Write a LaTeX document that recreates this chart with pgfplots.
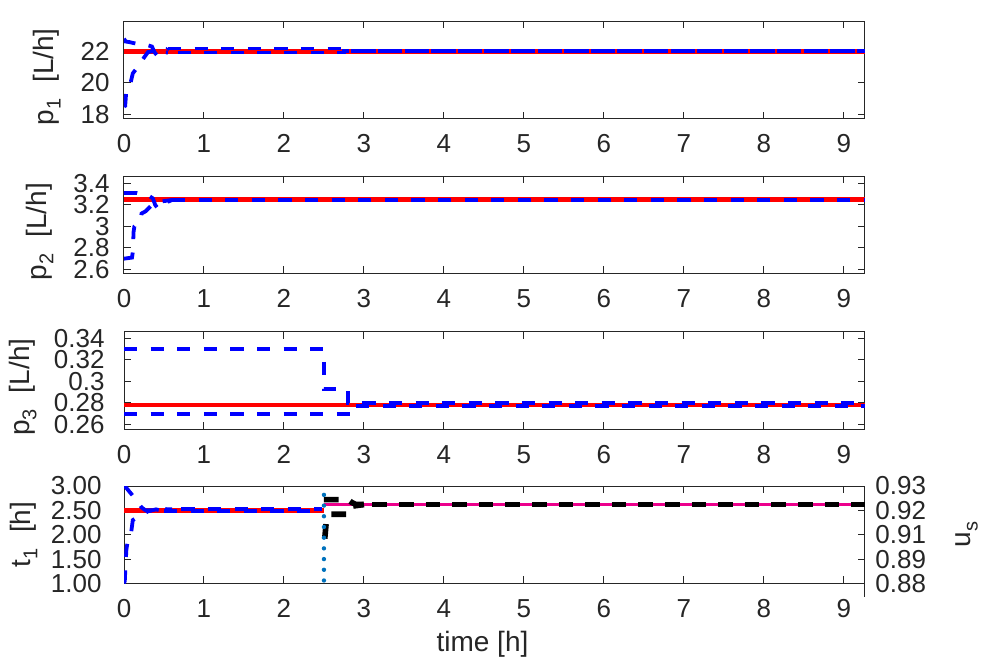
\documentclass[border=0pt]{standalone}
\usepackage{fontspec}
\setmainfont{Liberation Sans}
\usepackage{pgfplots}
\pgfplotsset{compat=1.18}
\definecolor{axgray}{RGB}{38,38,38}
\definecolor{mlblue}{RGB}{0,114,189}
\newcommand{\sub}[1]{\raisebox{-0.24em}{\fontsize{10}{10}\selectfont #1}}
\pgfplotsset{
  panel/.style={
    scale only axis, width=370.5pt, height=48.7pt, anchor=north west,
    xmin=0, xmax=9.265, xtick={0,1,...,9},
    tick align=inside, major tick length=3.5pt,
    axis line style={axgray, line width=0.5pt},
    every tick/.style={axgray, line width=0.5pt},
    tick label style={font=\fontsize{13}{15}\selectfont, text=axgray},
    label style={font=\fontsize{14}{16}\selectfont, text=axgray},
    /pgf/number format/assume math mode=true,
    xticklabel style={yshift=-4.5pt},
  },
  lefty/.style={yticklabel style={xshift=#1},
    ylabel style={at={(rel axis cs:-0.1039,0.43)}, anchor=center}},
  truth/.style={red, line width=2.3pt},
  est/.style={blue, line width=1.9pt, dash pattern=on 6.6pt off 6.7pt},
  bl/.style={black, line width=2.8pt, dash pattern=on 7.3pt off 6pt},
}
\begin{document}
\begin{tikzpicture}
\path[use as bounding box] (0,0) rectangle (496pt,-334.5pt);

% p1
\begin{axis}[panel, lefty=-3.7pt, at={(62pt,-10.65pt)},
  ymin=17.73, ymax=23.9, ytick={18,20,22},
  ylabel={p\sub{1}\hspace{8pt}[L/h]},
  ylabel style={at={(rel axis cs:-0.1039,0.43)}}]
\addplot[truth] coordinates {(0,22) (9.265,22)};
\addplot[est] coordinates {(0,22.8) (0.02,22.62) (0.07,22.58) (0.12,22.52) (0.2,22.45) (0.3,22.38) (0.35,22.3) (0.38,21.95) (0.42,21.7) (0.46,21.72) (0.5,21.95) (0.55,22.18)};
\addplot[est] coordinates {(0.55,22.18) (2.75,22.18) (2.75,22.0) (9.265,22.0)};
\addplot[est] coordinates {(0,18.5) (0.015,18.55) (0.03,19.6) (0.08,19.95) (0.11,20.6) (0.17,21.0) (0.25,21.6) (0.3,21.95) (0.4,22.05) (0.5,21.95) (0.55,21.92)};
\addplot[est, dash phase=8.5pt] coordinates {(0.55,21.92) (2.75,21.92) (2.75,22.0) (9.265,22.0)};
\end{axis}

% p2
\begin{axis}[panel, lefty=-3.7pt, at={(62pt,-88pt)},
  ymin=2.563, ymax=3.468, ytick={2.6,2.8,3,3.2,3.4},
  ylabel={p\sub{2}\hspace{8pt}[L/h]},
  ylabel style={at={(rel axis cs:-0.1134,0.43)}}]
\addplot[truth] coordinates {(0,3.25) (9.265,3.25)};
\addplot[est] coordinates {(0,3.31) (0.16,3.31) (0.22,3.30) (0.3,3.29) (0.36,3.26) (0.39,3.2) (0.42,3.17) (0.47,3.18) (0.52,3.22) (0.6,3.245)};
\addplot[est] coordinates {(0,2.7) (0.1,2.71) (0.11,2.76) (0.12,2.95) (0.13,3.0) (0.2,3.05) (0.22,3.12) (0.27,3.14) (0.35,3.2) (0.45,3.23) (0.6,3.245)};
\addplot[est] coordinates {(0.6,3.245) (9.265,3.245)};
\addplot[est] coordinates {(0.6,3.245) (9.265,3.245)};
\end{axis}

% p3
\begin{axis}[panel, lefty=-6.2pt, at={(62pt,-165.85pt)},
  ymin=0.2557, ymax=0.3461, ytick={0.26,0.28,0.3,0.32,0.34},
  ylabel={p\sub{3}\hspace{8pt}[L/h]},
  ylabel style={at={(rel axis cs:-0.1363,0.43)}}]
\addplot[truth] coordinates {(0,0.278) (9.265,0.278)};
\addplot[est] coordinates {(0,0.33) (2.5,0.33) (2.5,0.2927) (2.8,0.2927) (2.8,0.2797) (9.265,0.2797)};
\addplot[est] coordinates {(0,0.27) (2.85,0.27) (2.85,0.2768) (9.265,0.2768)};
\end{axis}

% t1 (left) and u_s (right)
\begin{axis}[panel, lefty=-7.7pt, at={(62pt,-243pt)},
  ymin=1, ymax=3, ytick={1,1.5,2,2.5,3},
  yticklabels={1.00,1.50,2.00,2.50,3.00}, ytick pos=left,
  ylabel={t\sub{1}\hspace{8pt}[h]},
  ylabel style={at={(rel axis cs:-0.135,0.5)}},
  xlabel={time [h]}, xlabel style={xshift=-6pt}]
\addplot[truth] coordinates {(0,2.5) (2.5,2.5)};
\addplot[est] coordinates {(0,3.02) (0.02,2.98) (0.08,2.86) (0.15,2.72) (0.22,2.56) (0.27,2.5) (0.35,2.5) (0.45,2.53) (0.6,2.52)};
\addplot[est, dash phase=8.6pt] coordinates {(0.6,2.52) (2.48,2.52)};
\addplot[est] coordinates {(0,1.0) (0.01,1.05) (0.02,1.4) (0.03,1.7) (0.05,1.9) (0.09,2.05) (0.11,2.3) (0.19,2.38) (0.3,2.48) (0.4,2.52) (0.5,2.48)};
\addplot[est] coordinates {(0.5,2.48) (2.48,2.48)};
\end{axis}
\begin{axis}[panel, at={(62pt,-243pt)},
  axis y line*=right, axis x line=none,
  ymin=0.88, ymax=0.93, ytick={0.88,0.8925,0.905,0.9175,0.93},
  yticklabels={0.88,0.89,0.91,0.92,0.93},
  yticklabel style={xshift=1.7pt},
  ylabel={u\sub{s}},
  ylabel style={at={(rel axis cs:1.1377,0.5)}, anchor=center},
  clip mode=individual]
\addplot[magenta, line width=1.8pt] coordinates {(2.5,0.9205) (9.265,0.9205)};
\addplot[bl] coordinates {(2.5,0.923) (2.8,0.923) (2.85,0.9215) (2.9,0.9205) (3.0,0.9205)};
\addplot[bl] coordinates {(2.51,0.903) (2.53,0.912) (2.58,0.9155) (2.78,0.9155) (2.83,0.9195) (3.0,0.9205)};
\addplot[bl, dash phase=9.1pt] coordinates {(3.0,0.9205) (9.265,0.9205)};
\addplot[mlblue, line width=2.2pt, line cap=round, dash pattern=on 0pt off 5.35pt] coordinates {(2.5,0.8815) (2.5,0.9268)};
\draw[axgray, line width=0.5pt] (rel axis cs:1,0) -- (rel axis cs:1,-0.137);
\end{axis}
\end{tikzpicture}
\end{document}
